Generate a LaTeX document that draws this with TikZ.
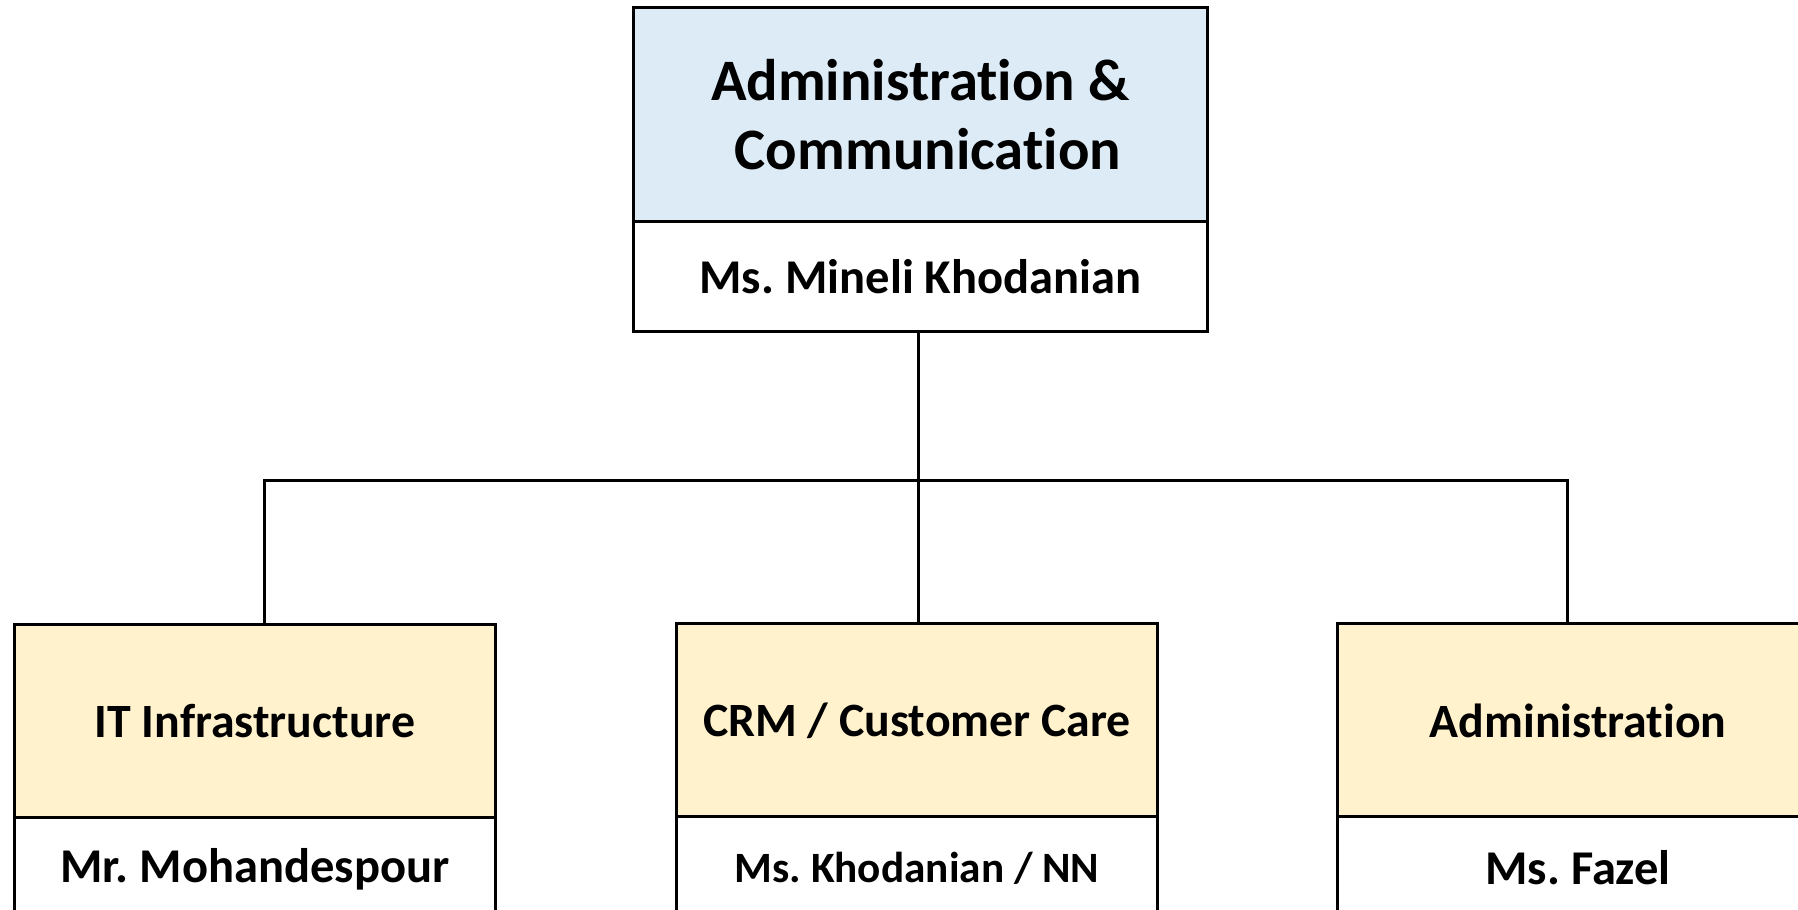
\documentclass[tikz,border=0pt]{standalone}
\usepackage{fontspec}
\setmainfont{Carlito}[RawFeature=-liga]
\usepackage{tikz}
\frenchspacing

\definecolor{headblue}{HTML}{DDEBF7}
\definecolor{unityellow}{HTML}{FFF2CC}
\tikzset{
	unitbox/.style={draw=black, line width=0.85pt, inner sep=0pt, align=center, minimum width=4.8cm},
	headtitle/.style={unitbox, fill=headblue, minimum width=5.73cm, minimum height=2.14cm, font=\bfseries\fontsize{16.7}{19.6}\selectfont},
	headname/.style={unitbox, fill=white, minimum width=5.73cm, minimum height=1.09cm, font=\bfseries\fontsize{13.8}{16}\selectfont},
	unittitle/.style={unitbox, fill=unityellow, minimum height=1.93cm, font=\bfseries\fontsize{13.6}{16}\selectfont},
	unitname/.style={unitbox, fill=white, minimum height=1.02cm, font=\bfseries\fontsize{13.8}{16}\selectfont},
	link/.style={black, line width=0.85pt}
}

\begin{document}
\begin{tikzpicture}[x=0.01cm, y=-0.01cm]
	\useasboundingbox (0,0) rectangle (1798,910);
	\clip (0,0) rectangle (1798,910);

	\node[headtitle] (acom) at (920.5,115) {Administration \&\\\hspace*{0.15cm}Communication};
	\node[headname] (acomname) at (920.5,276.5) {Ms. Mineli Khodanian};

	\node[unittitle] (itinf) at (255,721.5) {IT Infrastructure};
	\node[unitname] (itinfname) at (255,869) {Mr. Mohandespour};
	\node[unittitle] (crm) at (917,720.5) {CRM / Customer Care};
	\node[unitname, font=\bfseries\fontsize{12.3}{15}\selectfont] (crmname) at (917,868) {Ms. Khodanian / NN};
	\node[unittitle] (admin) at (1578,720.5) {Administration};
	\node[unitname] (adminname) at (1578,868) {Ms. Fazel};

	\coordinate (hub) at (918,480.5);
	\draw[link] (acomname.south -| hub) -- (hub) -- (crm.north -| hub);
	\draw[link] ([xshift=0.09cm]itinf.north) |- (hub) -| ([xshift=-0.11cm]admin.north);
\end{tikzpicture}
\end{document}
